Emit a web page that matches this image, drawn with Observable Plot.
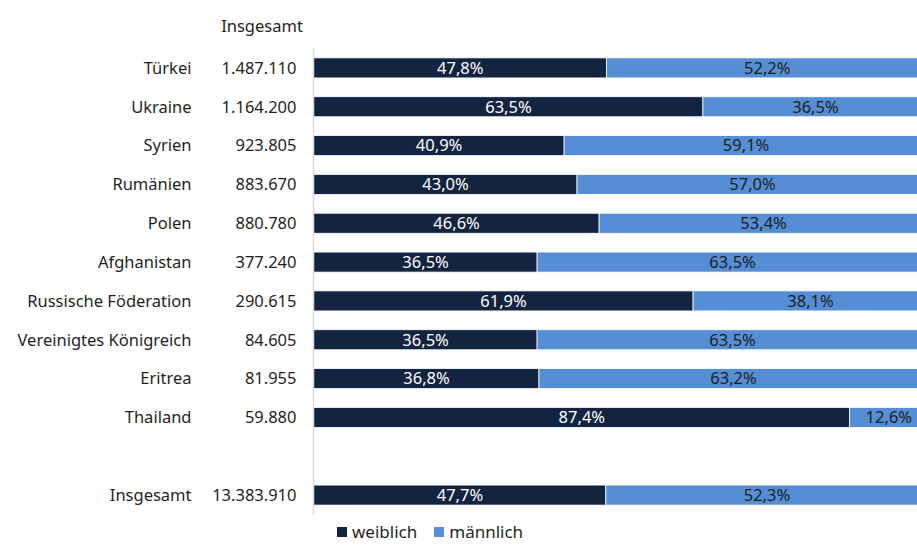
<!DOCTYPE html>
<html>
<head>
<meta charset="utf-8">
<script src="https://cdn.jsdelivr.net/npm/d3@7"></script>
<script src="https://cdn.jsdelivr.net/npm/@observablehq/plot@0.6"></script>
<style>
  body { margin: 0; background: #fff; font-family: "Noto Sans", sans-serif; }
  #legend { display: flex; align-items: center; height: 27px; padding-left: 337px; font-size: 17px; color: #1f1f1f; }
  #legend span.sw { display: inline-block; width: 10px; height: 10px; margin-right: 5px; }
  #legend span.item { display: inline-flex; align-items: center; margin-right: 17px; }
</style>
</head>
<body>
<div id="chart"></div>
<script>
const countries = ["Türkei","Ukraine","Syrien","Rumänien","Polen","Afghanistan","Russische Föderation","Vereinigtes Königreich","Eritrea","Thailand","Insgesamt"];
const totals = ["1.487.110","1.164.200","923.805","883.670","880.780","377.240","290.615","84.605","81.955","59.880","13.383.910"];
const weiblich = [47.8,63.5,40.9,43.0,46.6,36.5,61.9,36.5,36.8,87.4,47.7];
const maennlich = [52.2,36.5,59.1,57.0,53.4,63.5,38.1,63.5,63.2,12.6,52.3];
const seriesNames = ["weiblich","männlich"];
const seriesColors = ["#12243f","#558ed5"];
const totalHeader = "Insgesamt";

const yDomain = [...countries.slice(0, 10), " ", countries[10]];
const rows = [];
countries.forEach((c, i) => {
  rows.push({country: c, sex: seriesNames[0], x1: 0, x2: weiblich[i], v: weiblich[i]});
  rows.push({country: c, sex: seriesNames[1], x1: weiblich[i], x2: weiblich[i] + maennlich[i], v: maennlich[i]});
});
const fmt = v => v.toFixed(1).replace(".", ",") + "%";
const colorOf = s => seriesColors[seriesNames.indexOf(s)];
const FS = 16.5;

const chart = Plot.plot({
  width: 917,
  height: 518,
  marginLeft: 313,
  marginRight: -10,
  marginTop: 48.5,
  marginBottom: 3.5,
  style: {fontFamily: "Noto Sans", fontSize: FS + "px", color: "#1f1f1f", background: "#fff"},
  x: {domain: [0, 100], axis: null},
  y: {domain: yDomain, padding: 0, round: false, label: null},
  marks: [
    Plot.barX(rows, {x1: "x1", x2: "x2", y: "country", fill: d => colorOf(d.sex), stroke: "white", strokeWidth: 0.8, insetTop: 9.4, insetBottom: 9.4}),
    Plot.ruleX([0], {stroke: "#d9d9d9", strokeWidth: 1.5}),
    Plot.text(rows, {x: d => (d.x1 + d.x2) / 2, y: "country", text: d => fmt(d.v), fill: d => d.sex === seriesNames[0] ? "white" : "#1f1f1f", fontSize: FS}),
    Plot.axisY({tickSize: 0, tickPadding: 122, fontSize: FS, label: null, tickFormat: d => d.trim()}),
    Plot.text(countries, {x: () => 0, y: d => d, text: (d, i) => totals[i], dx: -17, textAnchor: "end", fontSize: FS, fill: "#1f1f1f"}),
    Plot.text([totalHeader], {x: () => 0, frameAnchor: "top", dy: -28.5, dx: -51.5, text: d => d, fontSize: FS, fill: "#1f1f1f"})
  ]
});
document.getElementById("chart").appendChild(chart);

const legend = document.createElement("div");
legend.id = "legend";
seriesNames.forEach((s, i) => {
  const item = document.createElement("span");
  item.className = "item";
  const sw = document.createElement("span");
  sw.className = "sw";
  sw.style.background = seriesColors[i];
  item.appendChild(sw);
  item.appendChild(document.createTextNode(s));
  legend.appendChild(item);
});
document.body.appendChild(legend);
</script>
</body>
</html>
